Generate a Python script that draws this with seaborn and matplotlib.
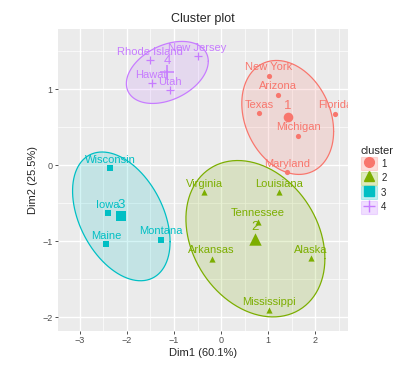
import numpy as np
import pandas as pd
import matplotlib
matplotlib.use('Agg')
import matplotlib.pyplot as plt
import seaborn as sns
from matplotlib.ticker import MultipleLocator
from matplotlib.patches import Patch
from matplotlib.lines import Line2D

states = ['New York', 'Arizona', 'Texas', 'Michigan', 'Florida', 'Maryland',
          'Virginia', 'Louisiana', 'Tennessee', 'Arkansas', 'Alaska', 'Mississippi',
          'Wisconsin', 'Iowa', 'Maine', 'Montana',
          'Rhode Island', 'New Jersey', 'Hawaii', 'Utah']
dim1 = [1.02, 1.20, 0.81, 1.64, 2.43, 1.40,
        -0.36, 1.23, 0.79, -0.20, 1.91, 1.01,
        -2.36, -2.40, -2.44, -1.28,
        -1.52, -0.50, -1.47, -1.08]
dim2 = [1.18, 0.93, 0.69, 0.39, 0.68, -0.09,
        -0.35, -0.35, -0.74, -1.23, -1.22, -1.91,
        -0.04, -0.63, -1.04, -0.98,
        1.38, 1.44, 1.08, 0.99]
cluster = [1, 1, 1, 1, 1, 1,
           2, 2, 2, 2, 2, 2,
           3, 3, 3, 3,
           4, 4, 4, 4]

colors = {1: '#F8766D', 2: '#7CAE00', 3: '#00BFC4', 4: '#C77CFF'}
markers = {1: 'o', 2: '^', 3: 's', 4: '+'}
pt_size = {1: 14, 2: 20, 3: 13, 4: 38}
ctr_size = {1: 48, 2: 80, 3: 50, 4: 110}
ELL_LEVEL = 0.68

df = pd.DataFrame({'state': states, 'Dim1': dim1, 'Dim2': dim2, 'cluster': cluster})
centers = df.groupby('cluster')[['Dim1', 'Dim2']].mean()

sns.set_theme(style='darkgrid', rc={'axes.facecolor': '#EBEBEB', 'grid.color': 'white'})
plt.rcParams['font.family'] = ['Liberation Sans', 'DejaVu Sans']

fig, ax = plt.subplots(figsize=(4.1, 3.76), dpi=100)
fig.subplots_adjust(left=0.141, right=0.849, top=0.924, bottom=0.120)

# normal-theory ellipses like stat_ellipse(type='norm')
t = np.linspace(0, 2 * np.pi, 100)
circle = np.vstack([np.cos(t), np.sin(t)])
for k, sub in df.groupby('cluster'):
    n = len(sub)
    d2 = n - 1
    qf = d2 / 2 * ((1 - ELL_LEVEL) ** (-2 / d2) - 1)
    r = np.sqrt(2 * qf)
    cov = np.cov(sub['Dim1'], sub['Dim2'])
    L = np.linalg.cholesky(cov)
    pts = centers.loc[k].values[:, None] + r * (L @ circle)
    ax.fill(pts[0], pts[1], facecolor=colors[k], alpha=0.17, zorder=2)
    ax.plot(pts[0], pts[1], color=colors[k], lw=0.9, zorder=2.1)

for k, sub in df.groupby('cluster'):
    kw = dict(linewidth=0.9) if markers[k] == '+' else dict(linewidth=0)
    sns.scatterplot(data=sub, x='Dim1', y='Dim2', marker=markers[k], color=colors[k],
                    s=pt_size[k], ax=ax, legend=False, zorder=3, **kw)
    c = centers.loc[[k]]
    sns.scatterplot(data=c, x='Dim1', y='Dim2', marker=markers[k], color=colors[k],
                    s=ctr_size[k], ax=ax, legend=False, zorder=3,
                    **(dict(linewidth=1.1) if markers[k] == '+' else dict(linewidth=0)))
    for _, row in sub.iterrows():
        ax.annotate(row['state'], (row['Dim1'], row['Dim2']), xytext=(0, 3.8),
                    textcoords='offset points', ha='center', va='baseline',
                    fontsize=8, color=colors[k], zorder=4, annotation_clip=False,
                    clip_on=True)
    ax.annotate(str(k), (c['Dim1'].iloc[0], c['Dim2'].iloc[0]), xytext=(0, 6),
                textcoords='offset points', ha='center', va='baseline',
                fontsize=9.5, color=colors[k], zorder=4, clip_on=True)

ax.set_xlim(-3.47, 2.70)
ax.set_ylim(-2.18, 1.80)
ax.xaxis.set_major_locator(MultipleLocator(1))
ax.yaxis.set_major_locator(MultipleLocator(1))
ax.xaxis.set_minor_locator(MultipleLocator(0.5))
ax.yaxis.set_minor_locator(MultipleLocator(0.5))
ax.grid(which='major', color='white', lw=1.0)
ax.grid(which='minor', color='white', lw=0.5)
ax.tick_params(which='major', direction='out', length=2.5, width=0.6, color='#333333',
               labelsize=6.5, labelcolor='#4D4D4D', pad=1.5, bottom=True, left=True)
ax.tick_params(which='minor', length=0)
for s in ax.spines.values():
    s.set_visible(False)

ax.set_xlabel('Dim1 (60.1%)', fontsize=8, labelpad=2)
ax.set_ylabel('Dim2 (25.5%)', fontsize=8, labelpad=3)
ax.set_title('Cluster plot', fontsize=9, pad=5)

handles = []
for k in sorted(colors):
    handles.append((Patch(facecolor=colors[k], alpha=0.25, edgecolor=colors[k], lw=0.8),
                    Line2D([], [], marker=markers[k], color=colors[k], ls='',
                           markersize=7 if k != 4 else 8, mew=1.0)))
leg = ax.legend(handles, ['1', '2', '3', '4'], title='cluster', loc='center left',
                bbox_to_anchor=(1.02, 0.5), frameon=False, fontsize=7,
                title_fontsize=8, handlelength=1.7, handleheight=1.7,
                labelspacing=0.15, handletextpad=0.4, borderaxespad=0.3)
leg._legend_box.align = 'left'

fig.savefig('out.png', dpi=100)
